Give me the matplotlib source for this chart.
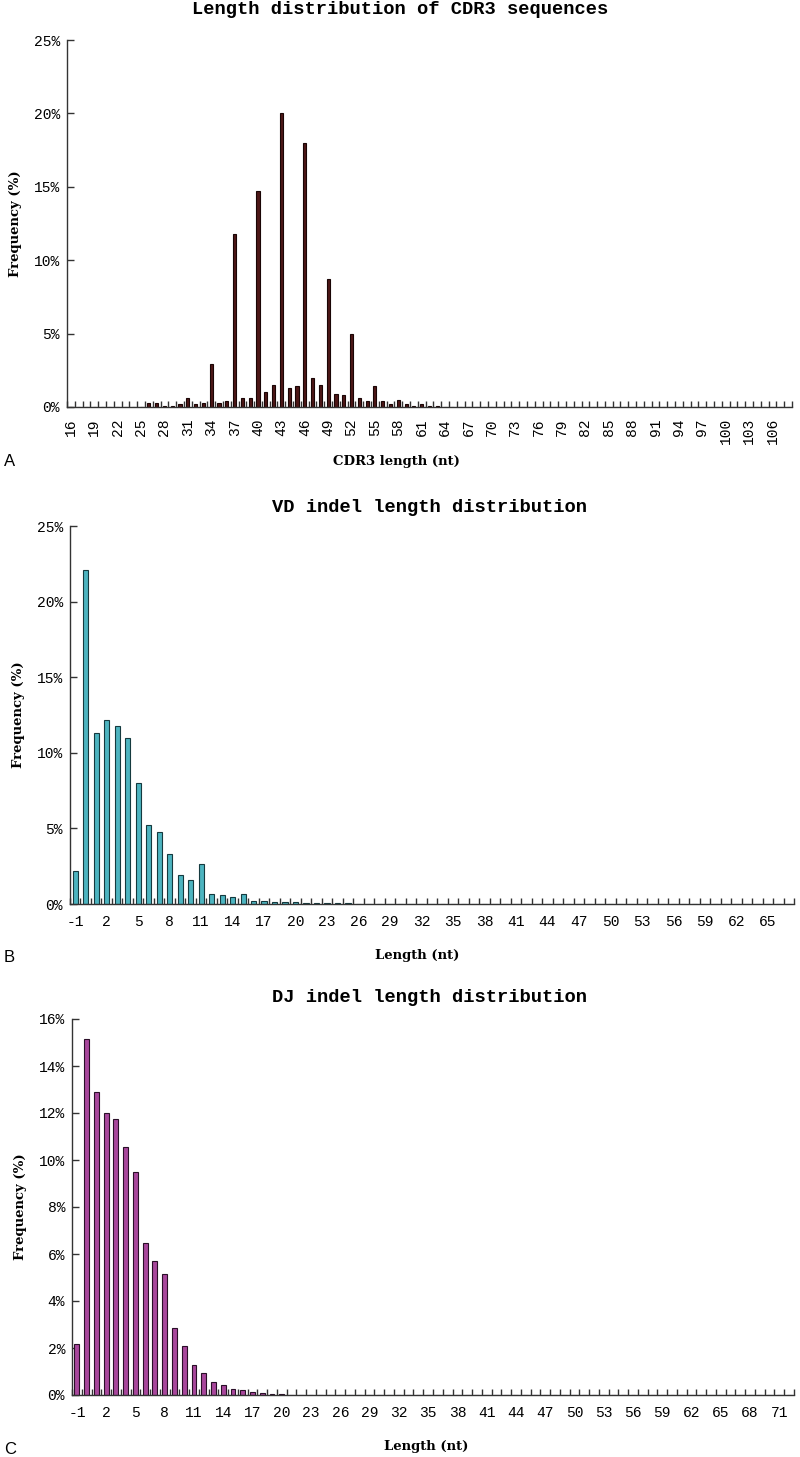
import numpy as np
import matplotlib
matplotlib.use('Agg')
import matplotlib.pyplot as plt
from matplotlib.ticker import FuncFormatter, FixedLocator

# ---- data (frequency in %) ----
cdr3_len = list(range(16, 109))
cdr3_head = [0, 0, 0, 0, 0, 0, 0, 0, 0, 0,          # 16-25
             0.3, 0.3, 0.1, 0.1, 0.2, 0.6, 0.2, 0.3,  # 26-33
             2.9, 0.3, 0.4, 11.8, 0.6, 0.6, 14.7, 1.0,  # 34-41
             1.5, 20.0, 1.3, 1.4, 18.0, 2.0, 1.5, 8.7,  # 42-49
             0.9, 0.8, 5.0, 0.6, 0.4, 1.4, 0.4, 0.2,  # 50-57
             0.5, 0.2, 0.1, 0.2, 0.1, 0.05]           # 58-63
cdr3_freq = cdr3_head + [0.0] * (len(cdr3_len) - len(cdr3_head))

vd_len = list(range(-1, 68))
vd_head = [2.2, 22.1, 11.3, 12.2, 11.8, 11.0, 8.0, 5.24, 4.76, 3.3,
           1.94, 1.6, 2.64, 0.66, 0.57, 0.44, 0.66, 0.2, 0.18, 0.13,
           0.1, 0.1, 0.08, 0.06, 0.06, 0.05, 0.04]
vd_freq = vd_head + [0.0] * (len(vd_len) - len(vd_head))

dj_len = list(range(-1, 73))
dj_head = [2.17, 15.15, 12.9, 12.0, 11.74, 10.57, 9.48, 6.48, 5.70, 5.16,
           2.87, 2.10, 1.28, 0.95, 0.57, 0.44, 0.27, 0.23, 0.14, 0.10,
           0.05, 0.03, 0.02]
dj_freq = dj_head + [0.0] * (len(dj_len) - len(dj_head))

W, H = 800, 1457
fig = plt.figure(figsize=(W / 100, H / 100), dpi=100)

TICK_FONT = 'Liberation Mono'
TITLE_FONT = 'Liberation Mono'


def rect(l, t, r, b):
    return [l / W, 1 - b / H, (r - l) / W, (b - t) / H]


def draw_panel(box, cats, vals, color, edge, width, ymax, ystep, title, xlabel,
               title_x, title_y, rotate=False):
    ax = fig.add_axes(rect(*box))
    ax.bar(cats, vals, width=width, color=color, edgecolor=edge, linewidth=0.8, zorder=2)
    ax.set_xlim(cats[0] - 0.5, cats[-1] + 0.5)
    ax.set_ylim(0, ymax)
    for s in ['top', 'right']:
        ax.spines[s].set_visible(False)
    for s in ['left', 'bottom']:
        ax.spines[s].set_color('#333333')
        ax.spines[s].set_linewidth(1.0)
    ax.set_yticks(np.arange(0, ymax + 0.01, ystep))
    ax.yaxis.set_major_formatter(FuncFormatter(lambda v, p: f'{v:.0f}%'))
    ax.tick_params(axis='y', direction='in', length=5, width=1, color='#333333',
                   labelsize=10.5, pad=5)
    lab = cats[::3]
    ax.set_xticks(lab)
    ax.set_xticklabels([str(c) for c in lab], rotation=90 if rotate else 0)
    ax.xaxis.set_minor_locator(FixedLocator(np.arange(cats[0] - 0.5, cats[-1] + 1, 1)))
    ax.tick_params(axis='x', which='major', length=0, labelsize=10.5, pad=8)
    ax.tick_params(axis='x', which='minor', direction='in', length=4, width=1, color='#333333')
    for t in ax.get_xticklabels() + ax.get_yticklabels():
        t.set_family(TICK_FONT)
    ax.set_ylabel('Frequency (%)', fontsize=9.5, fontweight='bold', family='DejaVu Serif')
    ax.yaxis.set_label_coords(-0.062, 0.5)
    ax.set_xlabel(xlabel, fontsize=9.5, fontweight='bold', family='DejaVu Serif')
    fig.text(title_x / W, 1 - title_y / H, title, ha='center', va='center',
             fontsize=13.5, fontweight='bold', family=TITLE_FONT)
    return ax


axA = draw_panel((67, 40, 792, 407), cdr3_len, cdr3_freq, '#4d1717', '#1a0505', 0.4,
                 25, 5, 'Length distribution of CDR3 sequences', 'CDR3 length (nt)',
                 title_x=400, title_y=10, rotate=True)
axA.xaxis.set_label_coords(0.455, -0.13)

axB = draw_panel((70, 526, 794, 904), vd_len, vd_freq, '#4db4c0', '#153a3f', 0.5,
                 25, 5, 'VD indel length distribution', 'Length (nt)',
                 title_x=430, title_y=507)
axB.xaxis.set_label_coords(0.48, -0.12)

axC = draw_panel((72, 1019, 794, 1395), dj_len, dj_freq, '#a8479c', '#2a0f28', 0.5,
                 16, 2, 'DJ indel length distribution', 'Length (nt)',
                 title_x=430, title_y=998)
axC.xaxis.set_label_coords(0.49, -0.12)

for letter, y in [('A', 462), ('B', 957), ('C', 1450)]:
    fig.text(4 / W, 1 - y / H, letter, ha='left', va='center', fontsize=12,
             family='Liberation Sans')

fig.savefig('out.png', dpi=100, facecolor='white')
